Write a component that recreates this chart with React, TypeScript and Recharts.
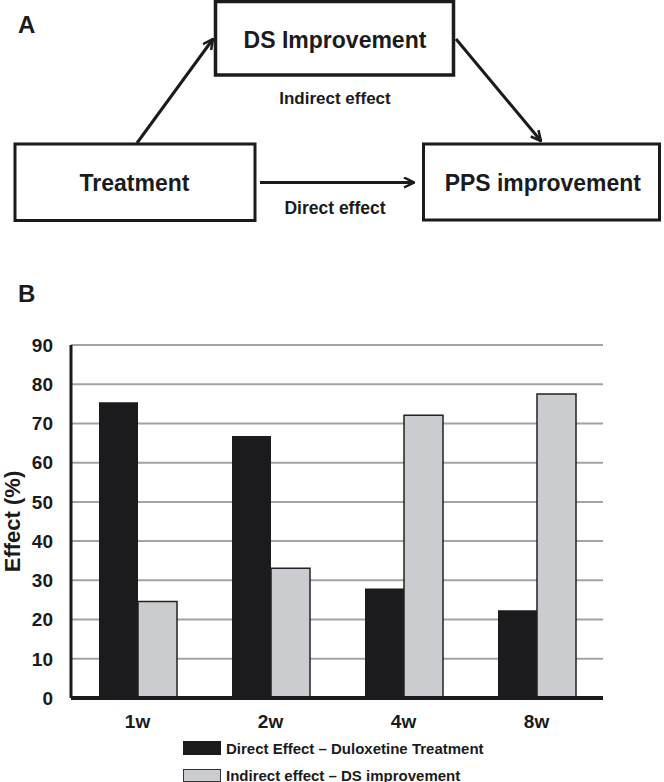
import { BarChart, Bar, XAxis, YAxis, CartesianGrid, Legend } from "recharts"

const weeks = ["1w", "2w", "4w", "8w"]
const directEffect = [75.4, 66.8, 27.9, 22.4]
const indirectEffect = [24.6, 33.1, 72.1, 77.5]
const yTicks = [0, 10, 20, 30, 40, 50, 60, 70, 80, 90]
const seriesNames = ["Direct Effect – Duloxetine Treatment", "Indirect effect – DS improvement"]

const INK = "#1b1b1d"
const GREY = "#cbcccf"
const GRID = "#a3a3a3"
const FONT = "'Liberation Sans', Arial, Helvetica, sans-serif"

const data = weeks.map((week, i) => ({
  week,
  direct: directEffect[i],
  indirect: indirectEffect[i],
}))

const tickStyle = { fill: INK, fontSize: 19, fontWeight: 700, fontFamily: FONT }

function EffectLabel({ viewBox }: any) {
  const cy = viewBox ? viewBox.y + viewBox.height / 2 : 291.5
  return (
    <text
      x={12}
      y={cy}
      dy="0.35em"
      transform={`rotate(-90, 12, ${cy})`}
      textAnchor="middle"
      fill={INK}
      fontSize={22}
      fontWeight={700}
      fontFamily={FONT}
    >
      Effect (%)
    </text>
  )
}

function LegendRows() {
  const fills = [INK, GREY]
  return (
    <div style={{ position: "relative", height: 45, fontFamily: FONT, fontWeight: 700, fontSize: 15, color: INK }}>
      {seriesNames.map((name, i) => (
        <div
          key={name}
          style={{
            position: "absolute",
            left: 183,
            top: i === 0 ? 4 : 31,
            height: 14,
            display: "flex",
            alignItems: "center",
            whiteSpace: "nowrap",
          }}
        >
          <span
            style={{
              display: "inline-block",
              width: 38,
              height: i === 0 ? 14 : 13,
              boxSizing: "border-box",
              background: fills[i],
              border: i === 0 ? "none" : "1.5px solid #333",
              marginRight: 5,
            }}
          />
          <span>{name}</span>
        </div>
      ))}
    </div>
  )
}

function MediationDiagram() {
  const txt = { fill: INK, fontWeight: 700, fontFamily: FONT, textAnchor: "middle" as const }
  return (
    <svg width={664} height={310} style={{ position: "absolute", left: 0, top: 0, pointerEvents: "none" }}>
      <defs>
        <marker
          id="head"
          viewBox="0 0 12 12"
          refX={11}
          refY={6}
          markerWidth={12}
          markerHeight={12}
          markerUnits="userSpaceOnUse"
          orient="auto"
        >
          <path d="M1,1 L11,6 L1,11" fill="none" stroke={INK} strokeWidth={2.5} />
        </marker>
      </defs>

      <text x={18} y={25} dy="0.35em" fill={INK} fontSize={24} fontWeight={700} fontFamily={FONT}>A</text>
      <text x={18} y={294} dy="0.35em" fill={INK} fontSize={24} fontWeight={700} fontFamily={FONT}>B</text>

      <rect x={215.5} y={1.5} width={238} height={73.5} fill="#fff" stroke={INK} strokeWidth={3.5} />
      <rect x={15} y={144} width={240} height={76.5} fill="#fff" stroke={INK} strokeWidth={3} />
      <rect x={423.5} y={144} width={236} height={76} fill="#fff" stroke={INK} strokeWidth={3} />

      <line x1={137} y1={143} x2={213} y2={39} stroke={INK} strokeWidth={3} markerEnd="url(#head)" />
      <line x1={260} y1={182.5} x2={414} y2={182.5} stroke={INK} strokeWidth={3} markerEnd="url(#head)" />
      <line x1={456} y1={39} x2={541} y2={141} stroke={INK} strokeWidth={3} markerEnd="url(#head)" />

      <text {...txt} x={335} y={40} dy="0.35em" fontSize={23}>DS Improvement</text>
      <text {...txt} x={335} y={98} dy="0.35em" fontSize={17}>Indirect effect</text>
      <text {...txt} x={134.5} y={182.7} dy="0.35em" fontSize={23}>Treatment</text>
      <text {...txt} x={335} y={208.3} dy="0.35em" fontSize={17.5}>Direct effect</text>
      <text
        {...txt}
        x={542.8}
        y={182.7}
        dy="0.35em"
        fontSize={23}
        textLength={196}
        lengthAdjust="spacingAndGlyphs"
      >
        PPS improvement
      </text>
    </svg>
  )
}

export default function App() {
  return (
    <div style={{ position: "absolute", left: 0, top: 0, width: 664, height: 782, background: "#fff" }}>
      <div style={{ position: "absolute", left: 0, top: 230 }}>
        <BarChart
          width={664}
          height={552}
          data={data}
          margin={{ top: 115, right: 61, bottom: 0, left: 11 }}
          barCategoryGap={28}
          barGap={0}
        >
          <CartesianGrid vertical={false} stroke={GRID} strokeWidth={2} />
          <Bar dataKey="direct" name={seriesNames[0]} fill={INK} isAnimationActive={false} />
          <Bar
            dataKey="indirect"
            name={seriesNames[1]}
            fill={GREY}
            stroke="#222"
            strokeWidth={1.5}
            isAnimationActive={false}
          />
          <XAxis
            dataKey="week"
            height={39}
            tick={tickStyle}
            tickLine={false}
            tickSize={0}
            tickMargin={17}
            axisLine={{ stroke: INK, strokeWidth: 4 }}
          />
          <YAxis
            width={60}
            domain={[0, 90]}
            ticks={yTicks}
            tick={tickStyle}
            tickLine={false}
            tickSize={0}
            tickMargin={18}
            axisLine={{ stroke: INK, strokeWidth: 3 }}
            label={<EffectLabel />}
          />
          <Legend
            verticalAlign="bottom"
            height={45}
            content={<LegendRows />}
            wrapperStyle={{ left: 0, width: 664, height: 45, bottom: 0 }}
          />
        </BarChart>
      </div>
      <MediationDiagram />
    </div>
  )
}
